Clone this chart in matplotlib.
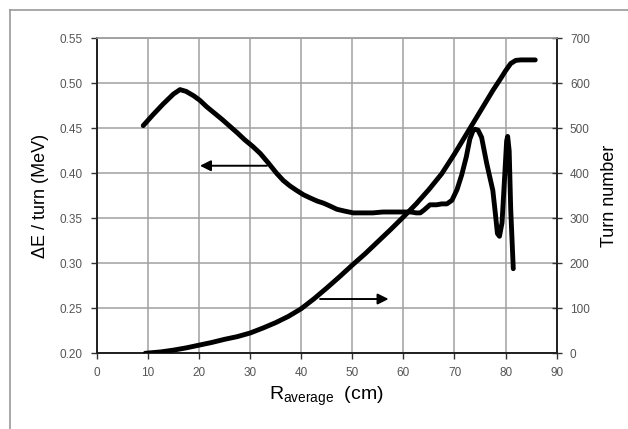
import matplotlib
matplotlib.use("Agg")
import matplotlib.pyplot as plt
from matplotlib.lines import Line2D

plt.rcParams['font.family'] = ['Liberation Sans', 'DejaVu Sans']

# Energy gain per turn (left axis)
r_de = [9.1, 11, 13, 15, 16.3, 17.5, 19, 20.2, 21.5, 23, 24.5, 26.1, 27.5, 29, 30.5,
        32, 33.5, 35.2, 36.5, 37.8, 39.1, 40.5, 42, 43.2, 44.3, 45.5, 47, 48.5,
        50.2, 52, 54, 56, 58, 60, 61.5, 62.5, 63.3, 64, 65.2, 66.5, 67.5, 68.5,
        69.5, 70.5, 71.4, 72.3, 73, 73.6, 74, 74.6, 75.3, 76.3, 77.5, 78.0, 78.4,
        78.8, 79.3, 79.8, 80.2, 80.4, 80.7, 81.0, 81.5]
de = [0.453, 0.465, 0.477, 0.488, 0.493, 0.491, 0.486, 0.481, 0.474, 0.467, 0.460,
      0.452, 0.445, 0.437, 0.430, 0.422, 0.412, 0.400, 0.392, 0.386, 0.381, 0.376,
      0.372, 0.369, 0.367, 0.364, 0.360, 0.358, 0.356, 0.356, 0.356, 0.357, 0.357,
      0.357, 0.357, 0.356, 0.356, 0.359, 0.365, 0.365, 0.366, 0.366, 0.370, 0.382,
      0.398, 0.418, 0.438, 0.447, 0.449, 0.448, 0.440, 0.411, 0.381, 0.355, 0.333,
      0.330, 0.345, 0.395, 0.436, 0.441, 0.425, 0.360, 0.294]

# Turn number (right axis)
r_turn = [9.5, 12.5, 15, 17.5, 20, 22.5, 25, 27.5, 30, 32.5, 35, 37.5, 40, 42.5,
          45, 47.5, 50, 52.5, 55, 57.5, 60, 62.5, 65, 67.5, 70, 72.5, 75, 77.5,
          79, 80, 81, 82, 83, 85.8]
turn = [0, 3, 7, 12, 18, 24, 31, 37, 45, 56, 68, 82, 99, 121, 145, 170, 196, 221,
        248, 275, 303, 332, 364, 399, 443, 490, 537, 584, 610, 628, 644, 651, 652,
        652]

x_ticks = [0, 10, 20, 30, 40, 50, 60, 70, 80, 90]
y_left_ticks = [0.20, 0.25, 0.30, 0.35, 0.40, 0.45, 0.50, 0.55]
y_right_ticks = [0, 100, 200, 300, 400, 500, 600, 700]

# Arrow annotations (data units, left axis)
arrow_left = ((33.3, 0.4084), (20.2, 0.4084))
arrow_right = ((43.7, 0.2603), (57.1, 0.2603))

fig = plt.figure(figsize=(6.28, 4.29), dpi=100)
fig.patch.set_facecolor('white')
ax = fig.add_axes([0.154, 0.1765, 0.7325, 0.7342])
ax2 = ax.twinx()

grid_c = '#a0a0a0'
ax.set_xlim(0, 90)
ax.set_ylim(0.20, 0.55)
ax2.set_ylim(0, 700)
ax.set_xticks(x_ticks)
ax.set_yticks(y_left_ticks)
ax2.set_yticks(y_right_ticks)
ax.set_yticklabels([f"{v:.2f}" for v in y_left_ticks])
ax.grid(True, color=grid_c, linewidth=1.1)
ax.set_axisbelow(True)

tick_c = '#555555'
ax.tick_params(axis='both', colors='#333333', labelcolor=tick_c, labelsize=8.5,
               direction='out', length=4, width=1)
ax2.tick_params(axis='y', colors='#333333', labelcolor=tick_c, labelsize=8.5,
                direction='inout', length=7, width=1, pad=6)
ax.tick_params(axis='y', pad=6)
ax.tick_params(axis='x', pad=6)

for a in (ax, ax2):
    a.spines['top'].set_color(grid_c)
    a.spines['top'].set_linewidth(1.1)
    for s in ('left', 'bottom', 'right'):
        a.spines[s].set_color('#222222')
        a.spines[s].set_linewidth(1.3)

ax.plot(r_de, de, color='black', linewidth=3.5, solid_joinstyle='round',
        solid_capstyle='round', zorder=3)
ax2.plot(r_turn, turn, color='black', linewidth=3.5, solid_joinstyle='round',
         solid_capstyle='round', zorder=3)

for (start, end) in (arrow_left, arrow_right):
    ax.annotate('', xy=end, xytext=start,
                arrowprops=dict(arrowstyle='-|>', color='black', lw=1.4,
                                mutation_scale=16, shrinkA=0, shrinkB=0),
                zorder=4)

ax.set_ylabel('ΔE / turn (MeV)', fontsize=13, labelpad=8)
ax2.set_ylabel('Turn number', fontsize=13, labelpad=8)
ax.set_xlabel(r'R$_{\mathregular{average}}$  (cm)', fontsize=14, labelpad=4)

# outer frame
fig.add_artist(Line2D([9.5 / 628, 9.5 / 628], [0, 1 - 10 / 429], color='#999999',
                      linewidth=1.2, transform=fig.transFigure))
fig.add_artist(Line2D([9.5 / 628, 1], [1 - 10 / 429, 1 - 10 / 429], color='#999999',
                      linewidth=1.2, transform=fig.transFigure))

fig.savefig('out.png', dpi=100)
